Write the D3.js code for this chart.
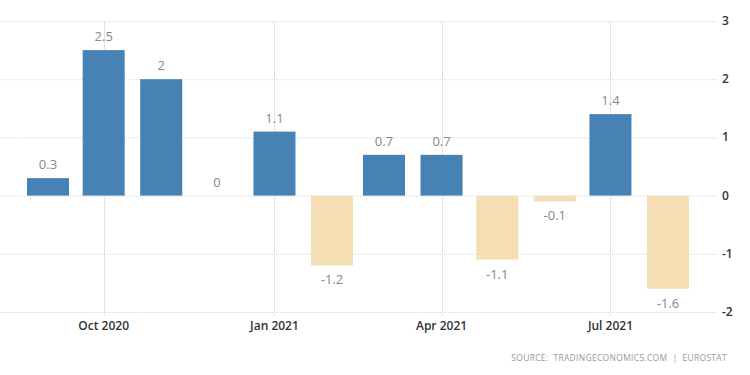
<!DOCTYPE html>
<html><head><meta charset="utf-8">
<script src="https://cdn.jsdelivr.net/npm/d3@7"></script>
<style>body{margin:0;background:#fff}svg{display:block}</style>
</head><body>
<svg id="c" width="750" height="375"></svg>
<script>
const months = ["2020-09","2020-10","2020-11","2020-12","2021-01","2021-02","2021-03","2021-04","2021-05","2021-06","2021-07","2021-08"];
const values = [0.3,2.5,2,0,1.1,-1.2,0.7,0.7,-1.1,-0.1,1.4,-1.6];
const labels = ["0.3","2.5","2","0","1.1","-1.2","0.7","0.7","-1.1","-0.1","1.4","-1.6"];
const yTicks = [3,2,1,0,-1,-2];
const xTicks = ["2020-10","2021-01","2021-04","2021-07"];
const xTickLabels = ["Oct 2020","Jan 2021","Apr 2021","Jul 2021"];

const parse = d3.utcParse("%Y-%m");
const svg = d3.select("#c");
const font = "'Open Sans', 'Noto Sans', sans-serif";

const x = d3.scaleUtc().domain([parse("2020-09"), parse("2021-08")]).range([48, 668]);
const y = d3.scaleLinear().domain([-2, 3]).range([312, 21]);
const gridRight = 718;
const barW = 42;

// horizontal grid
svg.append("g").selectAll("line").data(yTicks).join("line")
  .attr("x1", 0).attr("x2", gridRight)
  .attr("y1", d => y(d) + 0.5).attr("y2", d => y(d) + 0.5)
  .attr("stroke", "#d8d8d8").attr("stroke-dasharray", "1,1");

// vertical grid
svg.append("g").selectAll("line").data(xTicks).join("line")
  .attr("x1", d => Math.round(x(parse(d))) + 0.5).attr("x2", d => Math.round(x(parse(d))) + 0.5)
  .attr("y1", y(3)).attr("y2", y(-2) + 4)
  .attr("stroke", "#e3e3e3");

// y axis labels
svg.append("g").selectAll("text").data(yTicks).join("text")
  .attr("x", 722).attr("y", d => y(d) + 4)
  .attr("font-family", font).attr("font-size", 12).attr("font-weight", 600)
  .attr("fill", "#333").text(d => d);

// x axis labels
svg.append("g").selectAll("text").data(xTicks).join("text")
  .attr("x", d => x(parse(d))).attr("y", 330)
  .attr("text-anchor", "middle")
  .attr("font-family", font).attr("font-size", 12).attr("font-weight", 600)
  .attr("fill", "#333").text((d, i) => xTickLabels[i]);

// bars
svg.append("g").selectAll("rect").data(values).join("rect")
  .attr("x", (d, i) => x(parse(months[i])) - barW / 2)
  .attr("width", barW)
  .attr("y", d => y(Math.max(0, d)))
  .attr("height", d => Math.abs(y(d) - y(0)))
  .attr("fill", d => d >= 0 ? "#4682b4" : "#f5deb3");

// value labels
svg.append("g").selectAll("text").data(values).join("text")
  .attr("x", (d, i) => x(parse(months[i])))
  .attr("y", d => d >= 0 ? y(d) - 9 : y(d) + 19)
  .attr("text-anchor", "middle")
  .attr("font-family", font).attr("font-size", 13)
  .attr("fill", "#888").text((d, i) => labels[i]);

// source
svg.append("text").attr("x", 727).attr("y", 361).attr("text-anchor", "end")
  .attr("font-family", font).attr("font-size", 8.5).attr("letter-spacing", 0.3)
  .attr("fill", "#999").text("SOURCE:  TRADINGECONOMICS.COM  |  EUROSTAT")
  .attr("xml:space", "preserve").style("white-space", "pre");
</script>
</body></html>
